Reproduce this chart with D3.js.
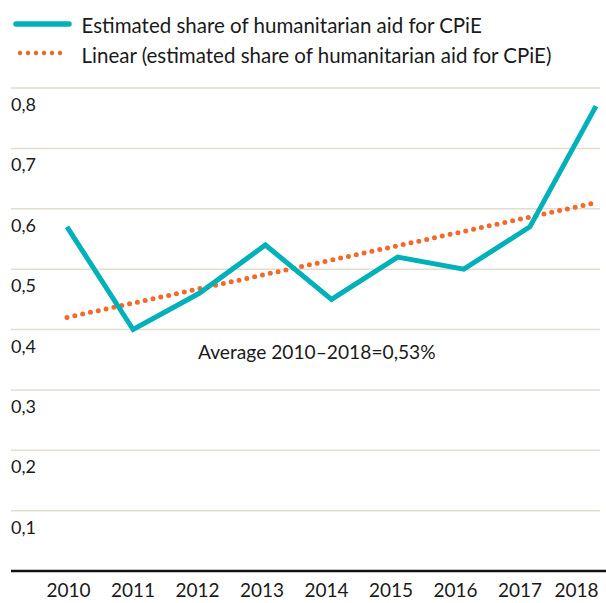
<!DOCTYPE html>
<html>
<head>
<meta charset="utf-8">
<script src="https://cdn.jsdelivr.net/npm/d3@7"></script>
<style>
	body { margin: 0; background: #fff; }
	svg { display: block; font-family: Lato, "Open Sans", sans-serif; }
</style>
</head>
<body>
<svg id="chart" width="606" height="603"></svg>
<script>
const years = [2010, 2011, 2012, 2013, 2014, 2015, 2016, 2017, 2018];
const shares = [0.57, 0.40, 0.46, 0.54, 0.45, 0.52, 0.50, 0.57, 0.77];
// trend line end points
const trendYears = [2010, 2018];
const trendValues = [0.42, 0.61];
const yTicks = [0.1, 0.2, 0.3, 0.4, 0.5, 0.6, 0.7, 0.8];
const legendLabels = [
	'Estimated share of humanitarian aid for CPiE',
	'Linear (estimated share of humanitarian aid for CPiE)'
];
const note = 'Average 2010\u20132018=0,53%';

const teal = '#00b1ba';
const orange = '#f26a2b';
const svg = d3.select('#chart');

const x = d3.scalePoint().domain(years).range([67, 596]);
const xLabel = d3.scalePoint().domain(years).range([68, 584]);
const y = d3.scaleLinear().domain([0, 0.8]).range([571, 88]);
const fmt = d => d3.format('.1f')(d).replace('.', ',');

// gridlines + y labels
const grid = svg.append('g');
grid.selectAll('line')
	.data(yTicks)
	.join('line')
	.attr('x1', 11).attr('x2', 600)
	.attr('y1', d => y(d)).attr('y2', d => y(d))
	.attr('stroke', '#e2ddd0')
	.attr('stroke-width', 1.5);

grid.selectAll('text')
	.data(yTicks)
	.join('text')
	.attr('x', 11)
	.attr('y', d => y(d) + 23)
	.attr('font-size', 18)
	.attr('fill', '#1a1a1a')
	.text(fmt);

// baseline
svg.append('line')
	.attr('x1', 11).attr('x2', 606)
	.attr('y1', y(0)).attr('y2', y(0))
	.attr('stroke', '#111')
	.attr('stroke-width', 2.5);

// x axis labels
const xAxis = svg.append('g')
	.attr('transform', `translate(0,${y(0)})`)
	.call(d3.axisBottom(xLabel).tickSize(0).tickPadding(13));
xAxis.select('.domain').remove();
xAxis.selectAll('text')
	.attr('font-size', 19)
	.attr('font-family', 'Lato, sans-serif')
	.attr('fill', '#1a1a1a');
xAxis.selectAll('.tick').filter(d => d === 2018).select('text')
	.attr('text-anchor', 'end')
	.attr('x', 598 - 584);

// trend line
svg.append('path')
	.datum(trendYears.map((yr, i) => [yr, trendValues[i]]))
	.attr('d', d3.line().x(d => x(d[0])).y(d => y(d[1])))
	.attr('fill', 'none')
	.attr('stroke', orange)
	.attr('stroke-width', 5)
	.attr('stroke-linecap', 'round')
	.attr('stroke-dasharray', '0,8');

// data line
svg.append('path')
	.datum(years.map((yr, i) => [yr, shares[i]]))
	.attr('d', d3.line().x(d => x(d[0])).y(d => y(d[1])))
	.attr('fill', 'none')
	.attr('stroke', teal)
	.attr('stroke-width', 5)
	.attr('stroke-linejoin', 'miter');

// note
svg.append('text')
	.attr('x', 198)
	.attr('y', 359)
	.attr('font-size', 19.2)
	.attr('fill', '#1a1a1a')
	.text(note);

// legend
const legend = svg.append('g');
legend.append('line')
	.attr('x1', 16).attr('x2', 69)
	.attr('y1', 24).attr('y2', 24)
	.attr('stroke', teal)
	.attr('stroke-width', 5.5)
	.attr('stroke-linecap', 'round');
legend.append('line')
	.attr('x1', 20).attr('x2', 68)
	.attr('y1', 53).attr('y2', 53)
	.attr('stroke', orange)
	.attr('stroke-width', 4.5)
	.attr('stroke-linecap', 'round')
	.attr('stroke-dasharray', '0,8');
legend.selectAll('text')
	.data(legendLabels)
	.join('text')
	.attr('x', 81.5)
	.attr('y', (d, i) => 33 + i * 30)
	.attr('font-size', 20.5)
	.attr('fill', '#1a1a1a')
	.text(d => d);
</script>
</body>
</html>
